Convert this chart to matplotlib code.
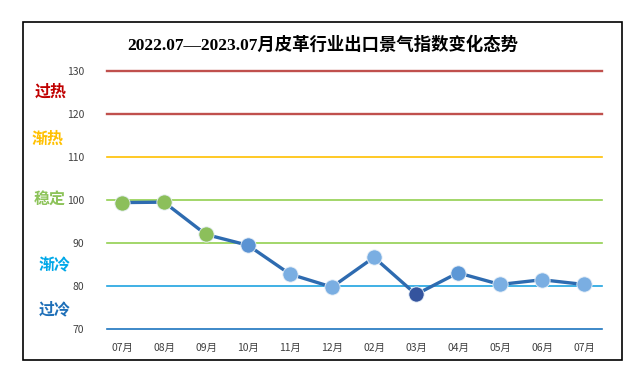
import matplotlib
matplotlib.use("Agg")
import matplotlib.pyplot as plt
from matplotlib.patches import Rectangle

plt.rcParams['font.family'] = ['Noto Sans CJK SC', 'DejaVu Sans']

title = "2022.07—2023.07月皮革行业出口景气指数变化态势"
months = ["07月", "08月", "09月", "10月", "11月", "12月", "02月", "03月", "04月", "05月", "06月", "07月"]
values = [99.4, 99.5, 92.0, 89.5, 82.8, 79.8, 86.7, 78.1, 83.1, 80.4, 81.5, 80.4]
marker_colors = ["#8CBF5B", "#8CBF5B", "#8CBF5B", "#5B93D3", "#7AAEE2", "#7AAEE2",
                 "#7AAEE2", "#34549E", "#5C97D6", "#7AAEE2", "#7AAEE2", "#7AAEE2"]
level_values = [130, 120, 110, 100, 90, 80, 70]
level_colors = ["#C0504D", "#C0504D", "#FFC000", "#92D050", "#92D050", "#1FA3E0", "#1D74BF"]
zone_labels = ["过热", "渐热", "稳定", "渐冷", "过冷"]
zone_values = [125.2, 114.3, 100.3, 84.8, 74.6]
zone_colors = ["#C00000", "#FFC000", "#8DC35A", "#00A8E8", "#1E6FB8"]

W, H = 641, 382
fig = plt.figure(figsize=(W / 100, H / 100), dpi=100)

# outer border
fig.patches.append(Rectangle((23 / W, 1 - 360 / H), 599 / W, 338 / H,
                             transform=fig.transFigure, fill=False,
                             edgecolor="black", linewidth=1.2))

ax = fig.add_axes([101 / W, 1 - 329.3 / H, 504 / W, (329.3 - 70.7) / H])
ax.set_xlim(-0.5, len(months) - 0.5)
ax.set_ylim(70, 130)
for s in ax.spines.values():
    s.set_visible(False)

x0 = (107 - 101) / 504
x1 = (602 - 101) / 504
for v, c in zip(level_values, level_colors):
    ax.axhline(v, xmin=x0, xmax=x1, color=c, linewidth=1.7 if v >= 120 else 1.2,
               zorder=1, clip_on=False)

xs = list(range(len(months)))
ax.plot(xs, values, color="#2E6BB0", linewidth=2.4, zorder=2, solid_joinstyle="round")
for x, v, c in zip(xs, values, marker_colors):
    ax.plot([x], [v], marker="o", markersize=11, markerfacecolor=c,
            markeredgecolor="#E8F0F8", markeredgewidth=0.6, zorder=3, linestyle="none")

ax.set_xticks(xs)
ax.set_xticklabels(months, fontsize=7.5, color="#404040")
ax.set_yticks(level_values)
ax.set_yticklabels([str(v) for v in level_values], fontsize=7.5, color="#404040")
ax.tick_params(axis="both", length=0)
ax.tick_params(axis="y", pad=12)
ax.tick_params(axis="x", pad=10)

zone_x = [51, 48, 50, 55, 55]
for lab, v, c, zx in zip(zone_labels, zone_values, zone_colors, zone_x):
    fig.text(zx / W, ax.transData.transform((0, v))[1] / H, lab, color=c, fontsize=11.5,
             fontweight="bold", ha="center", va="center")

fig.text(323 / W, 1 - 45 / H, title, ha="center", va="center", fontsize=12.5,
         fontweight="bold", family=["Liberation Serif", "Noto Sans CJK SC"], color="black")

fig.savefig("out.png", dpi=100)
